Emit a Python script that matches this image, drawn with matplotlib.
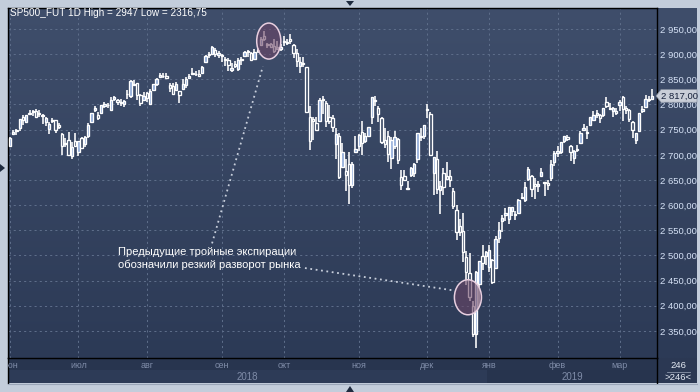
import numpy as np
import pandas as pd
import matplotlib
matplotlib.use("Agg")
import matplotlib.pyplot as plt
from matplotlib.patches import Rectangle, Ellipse, Polygon
from matplotlib.colors import LinearSegmentedColormap
from matplotlib.transforms import blended_transform_factory, Bbox, TransformedBbox
from matplotlib.lines import Line2D

plt.rcParams['font.family'] = ['Liberation Sans', 'DejaVu Sans']

# ---------------- data ----------------
title = "SP500_FUT 1D High = 2947 Low = 2316,75"
holidays = ['2018-07-04', '2018-09-03', '2018-11-22', '2018-12-05', '2018-12-25',
            '2019-01-01', '2019-01-21', '2019-02-18']
start_date, end_date = '2018-06-01', '2019-03-15'
month_labels = ['июн', 'июл', 'авг', 'сен', 'окт', 'ноя', 'дек', 'янв', 'фев', 'мар']
year_labels = ['2018', '2019']
ytick_values = [2350, 2400, 2450, 2500, 2550, 2600, 2650, 2700, 2750, 2800, 2850, 2900, 2950]
ytick_labels = ['2 350,00', '2 400,00', '2 450,00', '2 500,00', '2 550,00', '2 600,00', '2 650,00',
                '2 700,00', '2 750,00', '2 800,00', '2 850,00', '2 900,00', '2 950,00']
last_label = '2 817,00'
bar_count_label = '246'
note = "Предыдущие тройные экспирации\nобозначили резкий разворот рынка"

opens = [
 2718,2741,2748,2754,2775,2765,2781,2785,2787,2783,2777,2766,2752,2770,2769,2760,2742,2722,2729,2698,2728,
 2705,2733,2721,2738,2766,2789,2779,2783,2797,2798,2789,2811,2809,2804,2800,2820,2817,2841,2842,2819,2809,
 2822,2800,2829,2841,2855,2856,2857,2838,2836,2828,2827,2831,2838,2853,2861,2860,2860,2862,2884,2901,2900,2908,2898,
 2896,2891,2889,2868,2881,2871,2888,2896,2906,2903,2891,2906,2919,2936,2921,2921,2917,2911,2910,
 2926,2923,2931,2919,2902,2877,2883,2874,2776,2771,2763,2767,2811,2802,2775,2773,2721,2737,2675,2667,2682,2640,2705,
 2718,2745,2727,2738,2775,2807,2794,2773,2730,2737,2694,2718,2731,2655,2657,2633,2659,2663,2691,2736,2737,
 2790,2782,2663,2691,2630,2664,2658,2658,2629,2590,2559,2548,2496,2465,2400,2344,2443,2499,2499,
 2477,2491,2475,2535,2568,2580,2573,2588,2580,2585,2614,2610,2651,2658,2643,2638,2657,2644,2644,2654,2685,
 2703,2706,2728,2736,2717,2693,2712,2723,2750,2743,2760,2769,2779,2780,2780,2804,2792,2787,2788,
 2798,2814,2794,2790,2766,2730,2747,2788,2795,2811,2810]
highs = [
 2736,2749,2752,2772,2779,2779,2790,2789,2791,2789,2782,2775,2765,2774,2770,2764,2743,2733,2746,2725,2743,
 2727,2736,2737,2764,2784,2796,2785,2799,2805,2803,2815,2817,2811,2810,2809,2829,2848,2848,2843,2821,2824,
 2825,2830,2840,2853,2863,2862,2862,2842,2843,2844,2827,2850,2855,2860,2873,2867,2868,2876,2899,2904,2916,2912,2906,
 2900,2894,2892,2883,2886,2892,2894,2906,2908,2905,2911,2912,2934,2946,2923,2923,2931,2927,2920,
 2937,2931,2940,2920,2910,2894,2894,2875,2796,2775,2775,2813,2816,2807,2798,2779,2754,2743,2723,2692,2706,2685,2737,
 2741,2767,2744,2756,2814,2816,2796,2775,2754,2747,2735,2747,2733,2670,2670,2647,2675,2683,2744,2753,2760,
 2800,2785,2696,2708,2647,2674,2685,2670,2635,2601,2573,2585,2509,2504,2410,2470,2489,2520,2509,
 2520,2493,2538,2566,2580,2595,2597,2596,2589,2613,2625,2645,2675,2660,2654,2648,2673,2645,2650,2690,2708,
 2717,2725,2738,2740,2719,2709,2719,2748,2761,2757,2776,2787,2789,2781,2793,2814,2803,2795,2794,
 2808,2816,2796,2791,2768,2744,2784,2797,2818,2817,2830]
lows = [
 2718,2740,2739,2747,2760,2763,2780,2778,2774,2775,2762,2758,2741,2763,2744,2752,2699,2716,2698,2692,2718,
 2698,2711,2716,2733,2765,2786,2770,2781,2793,2793,2789,2806,2799,2796,2795,2811,2812,2836,2808,2797,2806,
 2805,2798,2828,2836,2854,2853,2852,2825,2819,2826,2802,2831,2833,2851,2859,2856,2854,2860,2884,2893,2898,2895,2893,
 2885,2876,2867,2864,2873,2866,2879,2896,2895,2886,2890,2903,2917,2927,2913,2913,2903,2909,2907,
 2917,2919,2921,2892,2874,2862,2874,2784,2710,2729,2749,2767,2781,2755,2761,2746,2691,2651,2675,2628,2603,2635,2705,
 2708,2700,2723,2737,2762,2796,2766,2722,2714,2686,2671,2712,2681,2631,2649,2631,2656,2656,2684,2728,2732,
 2774,2697,2621,2623,2583,2621,2650,2637,2593,2530,2538,2488,2441,2409,2338,2316.75,2398,2472,2482,
 2467,2444,2474,2525,2547,2568,2562,2578,2570,2585,2612,2606,2648,2617,2612,2627,2657,2619,2631,2648,2677,
 2696,2701,2724,2727,2687,2682,2705,2723,2748,2731,2757,2767,2774,2764,2776,2794,2789,2776,2780,
 2788,2768,2782,2765,2734,2722,2747,2783,2795,2804,2810]
closes = [
 2734,2746,2749,2772,2770,2779,2782,2786,2775,2782,2779,2773,2762,2767,2749,2755,2718,2723,2699,2716,2718,
 2727,2713,2736,2760,2784,2793,2774,2798,2801,2798,2809,2815,2804,2802,2806,2820,2846,2838,2819,2802,2816,
 2813,2827,2840,2850,2858,2857,2853,2833,2821,2840,2819,2840,2850,2857,2862,2861,2856,2875,2897,2898,2914,2901,2902,
 2896,2888,2878,2872,2877,2888,2888,2904,2905,2888,2904,2907,2930,2930,2919,2915,2906,2914,2914,
 2924,2923,2926,2902,2886,2884,2881,2786,2728,2767,2750,2809,2809,2768,2767,2756,2741,2656,2706,2659,2641,2682,2711,
 2740,2723,2738,2756,2814,2807,2781,2726,2722,2702,2730,2736,2690,2641,2649,2633,2674,2682,2744,2737,2760,
 2790,2700,2695,2633,2638,2637,2651,2650,2599,2546,2546,2507,2467,2417,2344,2467,2489,2486,2507,
 2510,2448,2532,2550,2574,2585,2597,2596,2583,2610,2616,2636,2671,2633,2639,2643,2665,2644,2640,2682,2704,
 2707,2725,2738,2732,2706,2708,2709,2744,2754,2746,2776,2780,2784,2774,2793,2796,2794,2793,2784,
 2804,2792,2789,2771,2749,2743,2784,2792,2811,2808,2817]

dates = pd.bdate_range(start_date, end_date, freq='C', holidays=holidays)
o = np.array(opens, float); h = np.array(highs, float)
l = np.array(lows, float); c = np.array(closes, float)
n = min(len(dates), len(o))
dates = dates[:n]; o, h, l, c = o[:n], h[:n], l[:n], c[:n]
x = np.arange(n)
month_idx = [i for i in range(n) if i == 0 or dates[i].month != dates[i - 1].month]
year_start = [i for i in range(n) if i > 0 and dates[i].year != dates[i - 1].year][0]

# ---------------- figure ----------------
W, H = 700, 392
fig = plt.figure(figsize=(W / 100, H / 100), dpi=100)
fig.patch.set_facecolor('#c3cddb')

def fy(py):
    return 1 - py / H

L, R, T, B = 8, 657, 8, 358
XMIN, XMAX = -0.6, 198.5
ax = fig.add_axes([L / W, fy(B), (R - L) / W, (B - T) / H])
ax.set_zorder(5)

cmap = LinearSegmentedColormap.from_list('bg', ['#3f4e6b', '#2c3a56'])
grad = np.linspace(0, 1, 256).reshape(-1, 1)
ax.imshow(grad, extent=[0, 1, 0, 1], transform=ax.transAxes, aspect='auto',
          cmap=cmap, zorder=0, origin='upper')

# right panel
axr = fig.add_axes([R / W, fy(B), (697 - R) / W, (B - T) / H])
axr.set_zorder(1)
axr.imshow(grad, extent=[0, 1, 0, 1], transform=axr.transAxes, aspect='auto',
           cmap=cmap, zorder=0, origin='upper')
axr.set_axis_off()

ax.set_xlim(XMIN, XMAX)
ax.set_ylim(2296.3, 2991.7)

# grid
for v in ytick_values:
    ax.axhline(v, color='#5d6d89', lw=0.75, ls=(0, (2, 3)), zorder=1)
for i in month_idx:
    ax.axvline(i, color='#5d6d89', lw=0.75, ls=(0, (2, 3)), zorder=1)

# candles
up = c >= o
ax.vlines(x, l, h, color='white', lw=1.15, zorder=3)
bot = np.minimum(o, c)
hgt = np.maximum(np.abs(c - o), 1.5)
ax.bar(x[up], hgt[up], bottom=bot[up], width=0.72, facecolor='#8eaad8',
       edgecolor='white', linewidth=0.95, zorder=4)
ax.bar(x[~up], hgt[~up], bottom=bot[~up], width=0.72, facecolor='#3a4965',
       edgecolor='white', linewidth=0.95, zorder=4)

# ticks
ax.yaxis.tick_right()
ax.set_yticks(ytick_values)
ax.set_yticklabels(ytick_labels)
ax.tick_params(axis='y', length=0, pad=2.5, labelsize=6.8, labelcolor='#d7e3f7')
ax.set_xticks(month_idx)
ax.set_xticklabels(month_labels[:len(month_idx)])
ax.tick_params(axis='x', length=0, pad=2.2, labelsize=6.5, labelcolor='#7f8ca8')
for s in ax.spines.values():
    s.set_color('black'); s.set_linewidth(1.0)

# bottom panel
panel_bbox = TransformedBbox(Bbox([[L / W, fy(383)], [R / W, fy(B)]]), fig.transFigure)
for lbl in ax.get_xticklabels():
    lbl.set_clip_on(True)
    lbl.set_clip_box(panel_bbox)

btr = blended_transform_factory(ax.transData, fig.transFigure)
fig.add_artist(Rectangle((L / W, fy(370)), (R - L) / W, 12 / H, transform=fig.transFigure,
                         facecolor='#28354f', edgecolor='none', zorder=1))
fig.add_artist(Rectangle((L / W, fy(383)), (R - L) / W, 13 / H, transform=fig.transFigure,
                         facecolor='#2d3b57', edgecolor='none', zorder=1))
fig.add_artist(Rectangle((year_start - 0.5, fy(383)), XMAX - (year_start - 0.5), 13 / H,
                         transform=btr, facecolor='#27344e', edgecolor='none', zorder=1.5))
fig.add_artist(Line2D([R / W, R / W], [fy(383), fy(B)], transform=fig.transFigure,
                      color='black', lw=1.0, zorder=2))
fig.add_artist(Line2D([L / W, L / W], [fy(383), fy(B)], transform=fig.transFigure,
                      color='black', lw=1.0, zorder=2))
fig.add_artist(Line2D([L / W, 697 / W], [fy(383.5), fy(383.5)], transform=fig.transFigure,
                      color='#9aa6b8', lw=0.8, zorder=2))
ax.text((XMIN + year_start - 0.5) / 2, fy(377), year_labels[0], transform=btr,
        ha='center', va='center', fontsize=7, color='#7f8ca8', clip_on=False, zorder=8)
ax.text((year_start - 0.5 + XMAX) / 2, fy(377), year_labels[1], transform=btr,
        ha='center', va='center', fontsize=7, color='#7f8ca8', clip_on=False, zorder=8)

# bottom-right box
fig.add_artist(Rectangle((R / W, fy(383)), (697 - R) / W, 25 / H, transform=fig.transFigure,
                         facecolor='#2b3853', edgecolor='none', zorder=1))
fig.add_artist(Line2D([667 / W, 690 / W], [fy(371.5), fy(371.5)], transform=fig.transFigure,
                      color='#8b96aa', lw=0.6, zorder=2))
fig.text(678 / W, fy(365.5), bar_count_label, ha='center', va='center', fontsize=6.8,
         color='#e6ecf5', zorder=8)
fig.text(678 / W, fy(377.5), '>' + bar_count_label + '<', ha='center', va='center', fontsize=6.8,
         color='#e6ecf5', zorder=8)

# title
fig.text(10 / W, fy(13), title, ha='left', va='center', fontsize=7.2, color='white', zorder=8)

# last price tag
ptr = blended_transform_factory(fig.transFigure, ax.transData)
yl = c[-1]
dy = 6.3 / 0.5033
tag = Polygon([[656 / W, yl], [661 / W, yl + dy], [697 / W, yl + dy], [697 / W, yl - dy], [661 / W, yl - dy]],
              closed=True, transform=ptr, facecolor='#c9ced8', edgecolor='#8a93a3', lw=0.5,
              zorder=9, clip_on=False)
fig.add_artist(tag)
fig.text(679.5 / W, yl, last_label, transform=ptr, ha='center', va='center', fontsize=6.8,
         color='#15203a', zorder=10)

# annotations: ellipses
e1 = Ellipse((79.4, 2926), 7.4, 71.5, facecolor=(0.42, 0.27, 0.40, 0.6),
             edgecolor='#e8cfe0', lw=1.1, zorder=6)
e2 = Ellipse((140.5, 2417), 8.3, 69.6, facecolor=(0.42, 0.27, 0.40, 0.6),
             edgecolor='#e8cfe0', lw=1.1, zorder=6)
ax.add_patch(e1); ax.add_patch(e2)
ax.plot([62.0, 77.6], [2524, 2876], color='#c8cfdc', lw=1.3, ls=(0, (1, 2)), zorder=6)
ax.plot([90.5, 135.6], [2475, 2431], color='#c8cfdc', lw=1.3, ls=(0, (1, 2)), zorder=6)
fig.text(118 / W, fy(247), note, ha='left', va='top', fontsize=8, color='white',
         linespacing=1.25, zorder=8)

# frame triangles
for pts in ([[346, 1], [354, 1], [350, 6]], [[346, 392], [354, 392], [350, 386]],
            [[0, 164], [0, 172], [5, 168]]):
    fig.add_artist(Polygon([[px / W, fy(py)] for px, py in pts], closed=True,
                           transform=fig.transFigure, facecolor='#1e2a3e', edgecolor='none', zorder=3))

fig.savefig('out.png', dpi=100, facecolor=fig.get_facecolor())
